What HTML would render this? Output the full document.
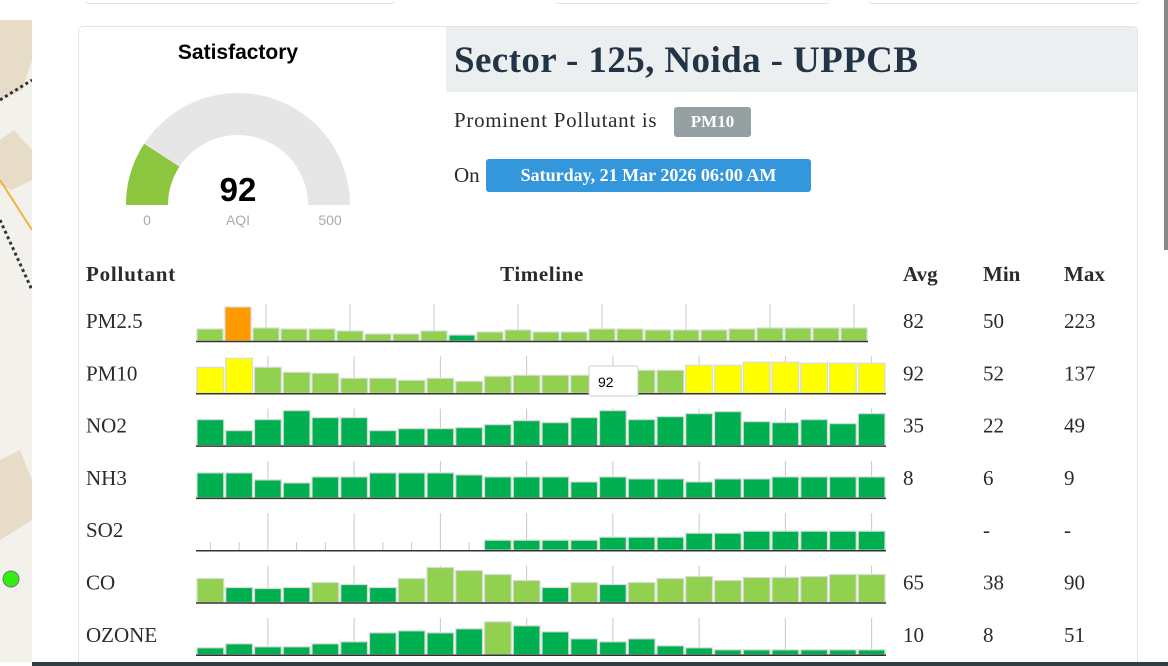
<!DOCTYPE html>
<html><head><meta charset="utf-8">
<style>
html,body{margin:0;padding:0;width:1168px;height:666px;overflow:hidden;background:#fff;position:relative}
.abs{position:absolute}
.serif{font-family:"Liberation Serif",serif;color:#2b2b2b}
.sans{font-family:"Liberation Sans",sans-serif}
</style></head><body>
<div class="abs" style="left:85px;top:0;width:310px;height:3px;border-bottom:1px solid #dfe3e6;border-radius:0 0 4px 4px"></div>
<div class="abs" style="left:555px;top:0;width:275px;height:3px;border-bottom:1px solid #dfe3e6;border-radius:0 0 4px 4px"></div>
<div class="abs" style="left:868px;top:0;width:272px;height:3px;border-bottom:1px solid #dfe3e6;border-radius:0 0 4px 4px"></div>
<svg class="abs" style="left:0;top:20px" width="32" height="642">
<rect width="32" height="642" fill="#f3f1ec"/>
<path d="M0 0h32v40l-10 30-22 10z" fill="#e6dcc8"/>
<path d="M0 120l14 -10 18 20v30l-20 10-12-5z" fill="#e6dcc8"/>
<path d="M0 440l20 -10 12 30v40l-32 20z" fill="#e6dcc8"/>
<line x1="0" y1="80" x2="32" y2="60" stroke="#333" stroke-width="3" stroke-dasharray="3 3"/>
<line x1="0" y1="200" x2="32" y2="270" stroke="#333" stroke-width="3" stroke-dasharray="3 3"/>
<line x1="0" y1="160" x2="32" y2="210" stroke="#f0b43c" stroke-width="2"/>
<circle cx="11" cy="559" r="8" fill="#33ee11" stroke="#777"/>
</svg>
<div class="abs" style="left:1164px;top:0;width:4px;height:250px;background:#888"></div>
<div class="abs" style="left:78px;top:26px;width:1058px;height:650px;border:1px solid #e3e6e8;border-radius:5px"></div>
<div class="abs" style="left:446px;top:27px;width:691px;height:65px;background:#eceff0"></div>
<div class="abs serif" style="left:454px;top:39px;font-size:37px;font-weight:bold;color:#243447;letter-spacing:0.4px;white-space:nowrap">Sector - 125, Noida - UPPCB</div>
<div class="abs serif" style="left:454px;top:108px;font-size:21px;letter-spacing:0.7px;white-space:nowrap">Prominent Pollutant is</div>
<div class="abs serif" style="left:674px;top:107px;width:77px;height:30px;background:#95a0a2;border-radius:3px;color:#fff;font-weight:bold;font-size:17px;line-height:30px;text-align:center">PM10</div>
<div class="abs serif" style="left:454px;top:163px;font-size:21px">On</div>
<div class="abs serif" style="left:486px;top:159px;width:325px;height:33px;background:#3497db;border-radius:3px;color:#fff;font-weight:bold;font-size:18px;line-height:33px;text-align:center;white-space:nowrap">Saturday, 21 Mar 2026 06:00 AM</div>
<div class="abs sans" style="left:138px;top:41px;width:200px;text-align:center;font-size:21px;font-weight:bold;color:#000">Satisfactory</div>
<svg class="abs" style="left:100px;top:80px" width="280" height="160">
<path id="gbg" fill="#e6e6e6"/>
<path id="gfg" fill="#8cc63f"/>
<text x="138" y="121" text-anchor="middle" font-family="Liberation Sans" font-weight="bold" font-size="33" fill="#000">92</text>
<text x="47" y="145" text-anchor="middle" font-family="Liberation Sans" font-size="14" fill="#aaa">0</text>
<text x="138" y="145" text-anchor="middle" font-family="Liberation Sans" font-size="14" fill="#aaa">AQI</text>
<text x="230" y="145" text-anchor="middle" font-family="Liberation Sans" font-size="14" fill="#aaa">500</text>
</svg>
<svg class="abs" id="tbl" style="left:0;top:0" width="1168" height="666"></svg>
<script>
const aqiValue=92, aqiMax=500;
const pollutants=["PM2.5","PM10","NO2","NH3","SO2","CO","OZONE"];
const avgVals=["82","92","35","8","","65","10"];
const minVals=["50","52","22","6","-","38","8"];
const maxVals=["223","137","49","9","-","90","51"];
const pm25=[12,34,13,12,12,10,7,7,10,6,9,11,9,9,12,12,11,11,11,12,13,13,13,13];
const pm10=[26,35,26,21,20,15,15,13,15,12,17,18,18,18,20,23,23,28,28,31,31,30,30,30];
const no2=[26,15,26,35,28,28,15,17,17,18,21,25,23,28,35,26,29,32,34,24,23,26,22,32];
const nh3=[25,25,18,15,21,21,25,25,25,23,21,21,21,16,21,19,19,16,19,19,21,21,21,21];
const so2=[0,0,0,0,0,0,0,0,0,0,10,10,10,10,13,13,13,17,17,19,19,19,19,19];
const co=[24,15,14,15,20,18,15,24,35,32,28,22,15,20,18,20,24,26,22,25,25,26,28,28];
const ozone=[7,11,8,8,11,13,22,24,22,26,33,29,23,16,13,16,9,7,5,5,5,5,5,5];
const pm25Col="LOLLLLLLLDLLLLLLLLLLLLLL";
const pm10Col="YYLLLLLLLLLLLLLLLYYYYYYY";
const coCol="LDDDLDDLLLLLDLDLLLLLLLLL";
const ozoneCol="DDDDDDDDDDLDDDDDDDDDDDDD";
const series=[pm25,pm10,no2,nh3,so2,co,ozone];
const colors={L:"#92d050",O:"#ff9900",D:"#00b050",Y:"#ffff00"};
const rowCols=[pm25Col,pm10Col,"D".repeat(24),"D".repeat(24),"D".repeat(24),coCol,ozoneCol];

(function(){
 const cx=138,cy=125,R=112,r=70;
 function arc(a0,a1){
  const p=(rad,a)=>[cx+rad*Math.cos(a),cy-rad*Math.sin(a)];
  const [x0,y0]=p(R,a0),[x1,y1]=p(R,a1),[x2,y2]=p(r,a1),[x3,y3]=p(r,a0);
  return `M${x0} ${y0}A${R} ${R} 0 0 1 ${x1} ${y1}L${x2} ${y2}A${r} ${r} 0 0 0 ${x3} ${y3}Z`;
 }
 document.getElementById('gbg').setAttribute('d',arc(Math.PI,0));
 document.getElementById('gfg').setAttribute('d',arc(Math.PI,Math.PI*(1-aqiValue/aqiMax)));
})();

const NS="http://www.w3.org/2000/svg";
const svg=document.getElementById('tbl');
function mk(tag,attrs,txt){const e=document.createElementNS(NS,tag);for(const k in attrs)e.setAttribute(k,attrs[k]);if(txt!==undefined)e.textContent=txt;svg.appendChild(e);return e;}
const F='"Liberation Serif",serif';
const h1=mk('text',{x:86,y:281,'font-family':F,'font-size':21,'font-weight':'bold','letter-spacing':'0.8',fill:'#2b2b2b'},'Pollutant');


const h2=mk('text',{x:542,y:281,'text-anchor':'middle','font-family':F,'font-size':21,'font-weight':'bold','letter-spacing':'0.6',fill:'#2b2b2b'},'Timeline');


const h3=mk('text',{x:903,y:281,'font-family':F,'font-size':21,'font-weight':'bold',fill:'#2b2b2b'},'Avg');


const h4=mk('text',{x:983,y:281,'font-family':F,'font-size':21,'font-weight':'bold',fill:'#2b2b2b'},'Min');


const h5=mk('text',{x:1064,y:281,'font-family':F,'font-size':21,'font-weight':'bold',fill:'#2b2b2b'},'Max');



const maxH=35, maxV=35;
const yScale=v=>v/maxV*maxH;
pollutants.forEach((p,i)=>{
 const base=341+i*52.3;
 const x0=196, x1=(i===0?868:886);
 const data=series[i], n=data.length, pitch=(x1-x0)/n;
 const xScale=k=>x0+k*pitch;
 const lab=mk('text',{x:86,y:base-13,'font-family':F,'font-size':21,fill:'#2b2b2b'},p);
 
 
 for(let k=0;k<n;k++){
  const tall=(k%3===2);
  if(tall||data[k]===0){
   const t=mk('line',{x1:xScale(k)+pitch/2,x2:xScale(k)+pitch/2,y1:tall?base-37:base-8,y2:base,stroke:'#c8c8c8','stroke-width':1});
   
   
  }
 }
 for(let k=0;k<n;k++){
  if(!data[k])continue;
  const h=yScale(data[k]);
  const r=mk('rect',{x:xScale(k)+1,y:base-h,width:pitch-2,height:h,fill:colors[rowCols[i][k]],stroke:'#d6dcd6','stroke-width':1.2});
  
  
 }
 const ax=mk('line',{x1:x0,x2:x1,y1:base+0.5,y2:base+0.5,stroke:'#333','stroke-width':1.5});
 
 
 [[903,avgVals[i],'avg'],[983,minVals[i],'min'],[1064,maxVals[i],'max']].forEach(([x,v,nm])=>{
  const t=mk('text',{x:x,y:base-13,'font-family':F,'font-size':21,fill:'#2b2b2b'},v);
  
  
 });
});
const tip=mk('rect',{x:589,y:366,width:49,height:30,fill:'#fff',stroke:'#ccc','stroke-width':1,rx:2});


const tt=mk('text',{x:598,y:387,'font-family':'"Liberation Sans",sans-serif','font-size':14,fill:'#000'},'92');


const xLabels=["6AM, Fri","12PM, Fri","6PM, Fri","8PM, Fri","2PM, Fri","10AM, Sat","6AM, Sat","2"];
xLabels.forEach((l,j)=>{
 const t=mk('text',{x:262+j*87,y:672,'text-anchor':'middle','font-family':'"Liberation Sans",sans-serif','font-size':13,fill:'#666'},l);
 
 
});
</script>
<div class="abs" style="left:32px;top:662px;width:1136px;height:4px;background:#2f3e46"></div>
</body></html>
